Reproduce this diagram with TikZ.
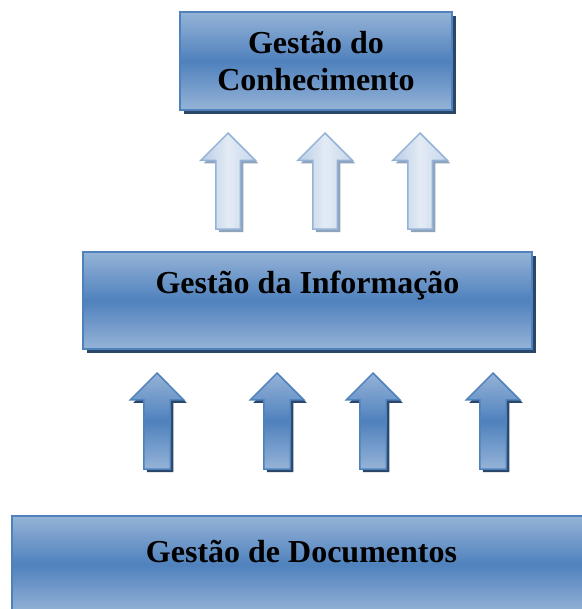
\documentclass[tikz,border=0pt]{standalone}
\usepackage{fontspec}
\setmainfont{Liberation Serif}
\usetikzlibrary{shapes.arrows,shadows}

\definecolor{boxlight}{HTML}{95B3D7}
\definecolor{boxdark}{HTML}{4F81BD}
\definecolor{boxshadow}{HTML}{2A4669}
\definecolor{palearrow}{HTML}{B9CDE5}
\definecolor{whitearrow}{HTML}{E3EBF5}
\definecolor{paleshadow}{HTML}{8FA3BD}

\tikzset{
  levelbox/.style={rectangle, draw=boxdark, line width=2pt, inner sep=0pt,
    top color=boxlight, bottom color=boxlight, middle color=boxdark,
    drop shadow={shadow xshift=4pt, shadow yshift=-4pt, fill=boxshadow, opacity=1}},
  leveltext/.style={font=\fontsize{32}{37}\selectfont\bfseries, align=center, inner sep=0pt},
  uparrow/.style={single arrow, rotate=90, anchor=tip, inner xsep=0pt,
    minimum height=96pt, line width=1.5pt},
  darkarrow/.style={uparrow, draw=boxdark, inner ysep=12.5pt,
    single arrow head extend=13.5pt,
    top color=boxlight, bottom color=boxlight, middle color=boxdark,
    drop shadow={shadow xshift=3pt, shadow yshift=-3pt, fill=boxshadow, opacity=1}},
  palearrow/.style={uparrow, draw=boxlight, inner ysep=11.5pt,
    single arrow head extend=15pt,
    left color=palearrow, right color=palearrow!80!white, middle color=whitearrow,
    drop shadow={shadow xshift=3pt, shadow yshift=-3pt, fill=paleshadow, opacity=1}}
}

\begin{document}
\begin{tikzpicture}[x=1pt, y=-1pt]

    % Fix the page to the size of the picture
    \useasboundingbox (0,0) rectangle (581,609);

    % Draw the three levels, the lowest runs off the page
    \node[levelbox, minimum width=272pt, minimum height=98pt] (gc) at (316,61) {};
    \node[levelbox, minimum width=449pt, minimum height=97pt] (gi) at (307.5,300.5) {};
    \node[levelbox, minimum width=579pt, minimum height=97pt] (gd) at (301.5,564.5) {};

    % Add the titles of the levels
    \node[leveltext] (gctext) at (gc.center) {Gestão do\\Conhecimento};
    \node[leveltext] (gitext) at ([yshift=15pt]gi.center) {Gestão da Informação};
    \node[leveltext] (gdtext) at ([yshift=13pt]gd.center) {Gestão de Documentos};

    % Arrows from the documents up to the information
    \node[darkarrow] (d1) at (157,372) {};
    \node[darkarrow] (d2) at (277,372) {};
    \node[darkarrow] (d3) at (373,372) {};
    \node[darkarrow] (d4) at (493,372) {};

    % Arrows from the information up to the knowledge
    \node[palearrow] (p1) at (228,132) {};
    \node[palearrow] (p2) at (325,132) {};
    \node[palearrow] (p3) at (420,132) {};

\end{tikzpicture}
\end{document}
